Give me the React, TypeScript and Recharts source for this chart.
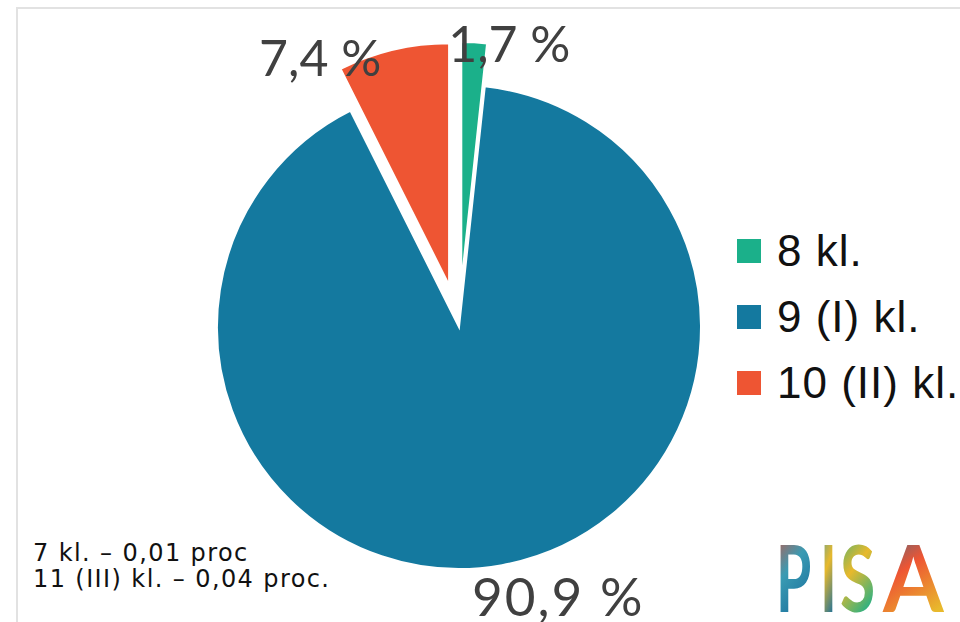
import React from 'react';
import { PieChart, Pie, Cell, Legend } from 'recharts';

const categories = ['8 kl.', '9 (I) kl.', '10 (II) kl.'];
const shares = [1.7, 90.9, 7.4];
const shareLabels = ['1,7 %', '90,9 %', '7,4 %'];
const colors = ['#1bb08a', '#14799f', '#ee5533'];
const exploded = [true, false, true];
const footnotes = ['7 kl. – 0,01 proc', '11 (III) kl. – 0,04 proc.'];

const data = categories.map((name, i) => ({ name, value: shares[i], label: shareLabels[i] }));

const CX = 459;
const CY = 327;
const R = 242;
const EXPLODE = 43;
const RAD = Math.PI / 180;

// mid angle of every slice, recharts style (90 = top, clockwise)
const total = shares.reduce((a, b) => a + b, 0);
const midAngles = (() => {
  let start = 90;
  return shares.map(v => {
    const end = start - (360 * v) / total;
    const mid = (start + end) / 2;
    start = end;
    return mid;
  });
})();

const centers = midAngles.map((m, i) => {
  const off = exploded[i] ? EXPLODE : 0;
  return { x: CX + off * Math.cos(m * RAD), y: CY - off * Math.sin(m * RAD) };
});

// where each value label sits relative to the outer edge of its slice
const labelPlacement = [
  { dx: -26, dy: 20, anchor: 'start', size: 50, spacing: 0 },
  { dx: -30, dy: 51, anchor: 'start', size: 53, spacing: 2 },
  { dx: -12, dy: 26, anchor: 'end', size: 50, spacing: 0 },
];

const makeLabel = (only: number) => (props: any) => {
  const { index } = props;
  if (index !== only) return null;
  const m = midAngles[index];
  const c = centers[index];
  const px = c.x + R * Math.cos(m * RAD);
  const py = c.y - R * Math.sin(m * RAD);
  const p = labelPlacement[index];
  return (
    <text
      x={px + p.dx}
      y={py + p.dy}
      textAnchor={p.anchor}
      fill="#404040"
      fontSize={p.size}
      letterSpacing={p.spacing}
      fontFamily="Lato, 'Noto Sans', sans-serif"
    >
      {data[index].label}
    </text>
  );
};

const LegendList = (props: any) => {
  const names = new Set((props.payload || []).map((e: any) => e.value));
  const items = categories.filter(c => names.has(c));
  return (
    <div>
      {items.map(name => {
        const i = categories.indexOf(name);
        return (
          <div key={name} style={{ display: 'flex', alignItems: 'center', height: 66 }}>
            <span style={{ width: 24, height: 24, background: colors[i], marginRight: 16, display: 'inline-block' }} />
            <span
              style={{
                fontSize: 44,
                letterSpacing: 1,
                color: '#111',
                fontFamily: "'Liberation Sans', Arial, sans-serif",
                whiteSpace: 'nowrap',
              }}
            >
              {name}
            </span>
          </div>
        );
      })}
    </div>
  );
};

const pisaLetters = [
  { ch: 'P', x: 776, sx: 0.62, stops: ['#e04a32', '#3a9bb3', '#1a6f9c'] },
  { ch: 'I', x: 820, sx: 0.62, stops: ['#3a9bb3', '#e8b92c', '#1a6f9c'] },
  { ch: 'S', x: 840, sx: 0.7, stops: ['#1bb08a', '#e8b92c', '#1bb08a'] },
  { ch: 'A', x: 883, sx: 0.95, stops: ['#1a6f9c', '#ee5533', '#e8b92c'] },
];

const App = () => {
  return (
    <div style={{ position: 'absolute', left: 0, top: 0, width: 960, height: 622, background: '#fff', overflow: 'hidden' }}>
      <div
        style={{
          position: 'absolute',
          left: 16,
          top: 7,
          width: 944,
          height: 615,
          borderTop: '2px solid #e2e2e2',
          borderLeft: '2px solid #e2e2e2',
        }}
      />
      <div style={{ position: 'absolute', left: 0, top: 0 }}>
        <PieChart width={960} height={622} margin={{ top: 0, right: 0, bottom: 0, left: 0 }}>
          {data.map((_, k) => (
            <Pie
              key={k}
              data={data}
              dataKey="value"
              nameKey="name"
              cx={centers[k].x}
              cy={centers[k].y}
              outerRadius={R}
              innerRadius={0}
              startAngle={90}
              endAngle={-270}
              stroke="none"
              labelLine={false}
              label={makeLabel(k)}
              legendType={k === 0 ? 'square' : 'none'}
              isAnimationActive={false}
            >
              {data.map((d, i) => (
                <Cell
                  key={d.name}
                  fill={i === k ? colors[i] : 'none'}
                  stroke={i === k ? '#fff' : 'none'}
                  strokeWidth={2}
                />
              ))}
            </Pie>
          ))}
          <Legend
            content={<LegendList />}
            wrapperStyle={{ left: 737, top: 218, width: 230, right: 'auto', bottom: 'auto' }}
          />
        </PieChart>
      </div>
      <div
        style={{
          position: 'absolute',
          left: 33,
          top: 540,
          fontSize: 24,
          letterSpacing: 1.4,
          lineHeight: '26px',
          color: '#111',
          fontFamily: "'DejaVu Sans', sans-serif",
        }}
      >
        {footnotes.map(f => (
          <div key={f}>{f}</div>
        ))}
      </div>
      <svg style={{ position: 'absolute', left: 0, top: 0 }} width={960} height={622}>
        <defs>
          {pisaLetters.map(l => (
            <linearGradient key={l.ch} id={'pisa-' + l.ch} x1="0" y1="0" x2="0.4" y2="1">
              <stop offset="0%" stopColor={l.stops[0]} />
              <stop offset="50%" stopColor={l.stops[1]} />
              <stop offset="100%" stopColor={l.stops[2]} />
            </linearGradient>
          ))}
        </defs>
        {pisaLetters.map(l => (
          <text
            key={l.ch}
            transform={`translate(${l.x},612) scale(${l.sx},1)`}
            fontSize={92}
            fontWeight={700}
            fontFamily="Lato, 'Noto Sans', sans-serif"
            fill={`url(#pisa-${l.ch})`}
          >
            {l.ch}
          </text>
        ))}
      </svg>
    </div>
  );
};

export default App;
